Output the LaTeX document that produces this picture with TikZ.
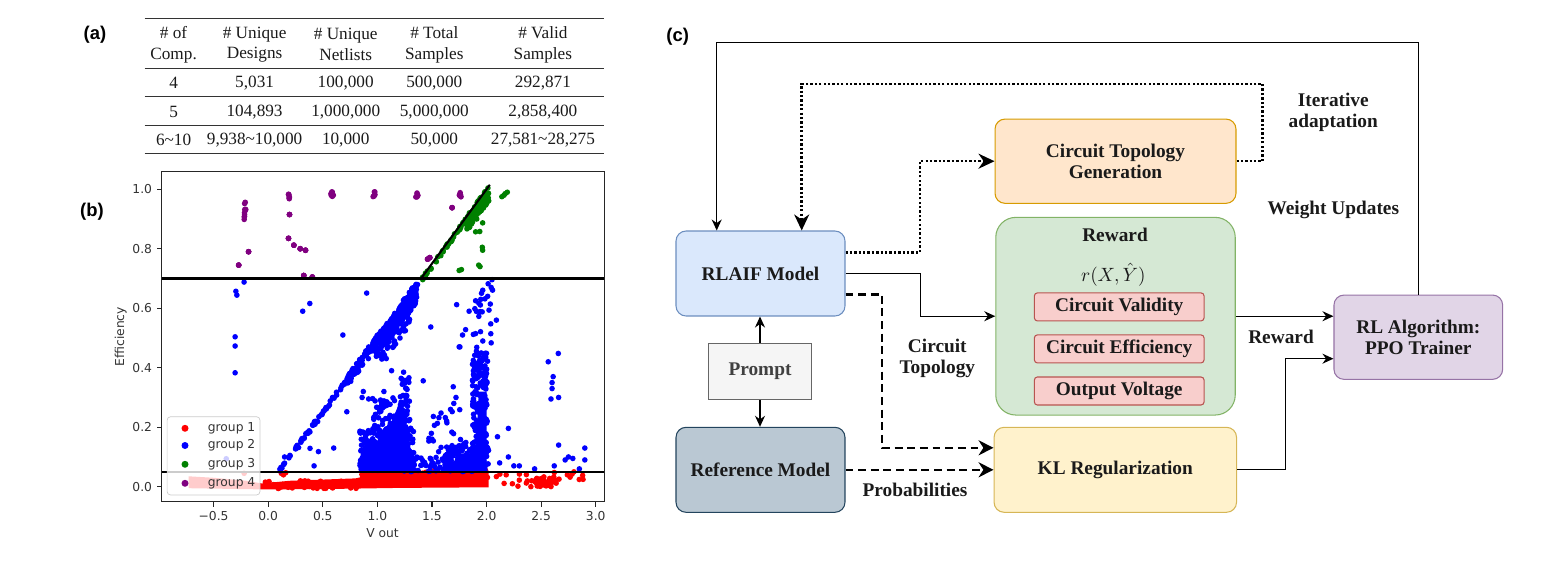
\documentclass[tikz,border=0pt]{standalone}
\usepackage{fontspec}
\setmainfont{Liberation Serif}
\newfontfamily\plotsans{DejaVu Sans}
\newfontfamily\labelsans{Liberation Sans}
\usetikzlibrary{arrows.meta}

\definecolor{blueF}{HTML}{DAE8FC}\definecolor{blueD}{HTML}{6C8EBF}
\definecolor{greyF}{HTML}{F5F5F5}\definecolor{greyD}{HTML}{666666}
\definecolor{slateF}{HTML}{BAC8D3}\definecolor{slateD}{HTML}{23445D}
\definecolor{orangeF}{HTML}{FFE6CC}\definecolor{orangeD}{HTML}{D79B00}
\definecolor{greenF}{HTML}{D5E8D4}\definecolor{greenD}{HTML}{82B366}
\definecolor{redF}{HTML}{F8CECC}\definecolor{redD}{HTML}{B85450}
\definecolor{yellowF}{HTML}{FFF2CC}\definecolor{yellowD}{HTML}{D6B656}
\definecolor{purpleF}{HTML}{E1D5E7}\definecolor{purpleD}{HTML}{9673A6}
\definecolor{ptred}{HTML}{FF0000}\definecolor{ptblue}{HTML}{0000FF}
\definecolor{ptgreen}{HTML}{008000}\definecolor{ptpurple}{HTML}{800080}
\definecolor{ink}{HTML}{1A1A1A}

\newcommand\boxfont{\fontsize{11}{12}\selectfont\bfseries}
\newcommand\tabfont{\fontsize{9.8}{11.8}\selectfont}
\newcommand\dotcloud[6]{%
  \foreach \i in {1,...,#2}{\fill[#1] ({#3+(#4)*rnd},{#5+(#6)*rnd}) circle[radius=0.056cm];}}
\newcommand\dotline[6]{%
  \foreach \i in {1,...,#2}{\pgfmathsetmacro\uu{#3+(#4)*rnd}%
    \fill[#1] (\uu,{\uu/2+(#5)+(#6)*rnd}) circle[radius=0.056cm];}}

\tikzset{
  tag/.style={font=\labelsans\bfseries\fontsize{10.5}{12}\selectfont, inner sep=0pt},
  cell/.style={font=\tabfont, align=center, inner sep=0pt, text=ink},
  rule/.style={line width=0.8pt, draw=black!80},
  tick/.style={font=\plotsans\fontsize{7}{8}\selectfont, text=black!80, inner sep=0pt},
  thr/.style={line width=1.2pt, black},
  box/.style={draw, line width=0.6pt, rounded corners=0.2cm, font=\boxfont, text=ink,
    align=center, inner sep=1pt},
  sub/.style={box, rounded corners=0.06cm, fill=redF, draw=redD,
    minimum width=3.394cm, minimum height=0.56cm},
  lbl/.style={font=\boxfont, text=ink, align=center, inner sep=0pt},
  link/.style={line width=0.75pt, -{Stealth[length=2.2mm,width=2mm]}},
  dotlink/.style={line width=1.4pt, dash pattern=on 1.3pt off 1.2pt,
    -{Stealth[length=3.2mm,width=3mm]}},
  dashlink/.style={line width=1.4pt, dash pattern=on 4.5pt off 2.7pt,
    -{Stealth[length=3mm,width=3mm]}},
}

\begin{document}
\begin{tikzpicture}[x=0.02cm, y=-0.02cm]
\useasboundingbox (0,0) rectangle (1551,575);
\pgfmathsetseed{11}

% (a) dataset table
\node[tag] (taga) at (95,35) {(a)};
\foreach \y in {18.3,68.3,96.7,125.7,153.3}
  \draw[rule] (144.6,\y) -- (603.6,\y);
\node[cell] (h1) at (173.6,44.7) {\# of\\Comp.};
\node[cell] (h2) at (254.6,44.7) {\# Unique\\Designs};
\node[cell] (h3) at (345.7,44.7) {\# Unique\\Netlists};
\node[cell] (h4) at (434.3,44.7) {\# Total\\Samples};
\node[cell] (h5) at (542.9,44.7) {\# Valid\\Samples};
\node[cell] (a1) at (173.6,83.3) {4};
\node[cell] (a2) at (254.6,83.3) {5,031};
\node[cell] (a3) at (345.7,83.3) {100,000};
\node[cell] (a4) at (434.3,83.3) {500,000};
\node[cell] (a5) at (542.9,83.3) {292,871};
\node[cell] (b1) at (173.6,111.7) {5};
\node[cell] (b2) at (254.6,111.7) {104,893};
\node[cell] (b3) at (345.7,111.7) {1,000,000};
\node[cell] (b4) at (434.3,111.7) {5,000,000};
\node[cell] (b5) at (542.9,111.7) {2,858,400};
\node[cell] (c1) at (173.6,140) {6\textasciitilde10};
\node[cell] (c2) at (254.6,140) {9,938\textasciitilde10,000};
\node[cell] (c3) at (345.7,140) {10,000};
\node[cell] (c4) at (434.3,140) {50,000};
\node[cell] (c5) at (542.9,140) {27,581\textasciitilde28,275};

% (b) scatter of efficiency against output voltage
\node[tag] (tagb) at (92,211.7) {(b)};
\begin{scope}[shift={(268.2,486.7)}, x=2.184cm, y=5.95cm]
  \begin{scope}
    \clip (-0.974,-0.0504) rectangle (3.08,1.0588);
    % group 1
    \fill[ptred] (-0.73,-0.005) -- (-0.73,0.035) -- (-0.5,0.03) -- (-0.2,0.02)
      -- (-0.06,0.011) -- (0.2,0.02) -- (0.5,0.024) -- (0.8,0.028) -- (0.95,0.04)
      -- (1.05,0.052) -- (2.02,0.054) -- (2.02,-0.002) -- (1.2,-0.004)
      -- (0.5,-0.008) -- (-0.06,-0.009) -- cycle;
    \dotcloud{ptred}{120}{0.85}{1.17}{0.03}{0.026}
    \dotcloud{ptred}{60}{-0.06}{0.95}{-0.006}{0.026}
    \dotcloud{ptred}{22}{2.05}{0.85}{0.0}{0.048}
    \dotcloud{ptred}{35}{2.44}{0.24}{0.0}{0.033}
    \foreach \p in {(0.12,0.045),(0.14,0.04),(0.16,0.047),(-0.22,0.045),(2.09,0.034),
        (2.18,0.04),(2.3,0.022),(2.74,0.04),(2.8,0.05),(2.88,0.038)}
      \fill[ptred] \p circle[radius=0.056cm];
    % group 2
    \dotline{ptblue}{130}{0.1}{1.27}{-0.008}{0.016}
    \dotline{ptblue}{60}{0.72}{0.36}{-0.03}{0.04}
    \dotline{ptblue}{200}{0.98}{0.38}{-0.06}{0.06}
    \dotline{ptblue}{30}{1.0}{0.3}{-0.11}{0.05}
    \fill[ptblue] (0.86,0.05) -- (1.3,0.05) -- (1.3,0.12) -- (1.26,0.22) -- (1.2,0.28)
      -- (1.13,0.22) -- (1.05,0.17) -- (0.95,0.14) -- (0.86,0.1) -- cycle;
    \dotcloud{ptblue}{240}{0.84}{0.5}{0.05}{0.15}
    \dotcloud{ptblue}{90}{0.95}{0.35}{0.12}{0.18}
    \dotcloud{ptblue}{50}{1.21}{0.08}{0.18}{0.2}
    \dotcloud{ptblue}{40}{1.3}{0.35}{0.05}{0.05}
    \fill[ptblue] (1.66,0.05) -- (2.0,0.05) -- (2.0,0.32) -- (1.93,0.32) -- (1.9,0.12)
      -- (1.78,0.1) -- (1.68,0.07) -- cycle;
    \dotcloud{ptblue}{160}{1.62}{0.4}{0.05}{0.09}
    \dotcloud{ptblue}{170}{1.87}{0.14}{0.1}{0.36}
    \dotcloud{ptblue}{25}{1.88}{0.18}{0.46}{0.24}
    \dotcloud{ptblue}{30}{1.45}{0.4}{0.06}{0.22}
    \foreach \p in {(-0.303,0.383),(-0.303,0.504),(-0.303,0.473),(-0.296,0.657),
        (-0.287,0.644),(-0.221,0.688),(-0.384,0.094),(0.316,0.59),(0.381,0.616),
        (0.684,0.51),(0.902,0.651),(1.489,0.537),(1.726,0.612),(1.749,0.47),
        (1.808,0.528),(1.879,0.512),(1.84,0.59),(2.09,0.56),(2.01,0.64),(2.05,0.696),
        (2.1,0.168),(2.2,0.196),(2.12,0.08),(2.2,0.1),(2.25,0.07),(2.3,0.07),
        (2.44,0.06),(2.62,0.07),(2.66,0.14),(2.72,0.09),(2.75,0.1),(2.79,0.095),
        (2.9,0.13),(2.9,0.09),(2.85,0.06),(2.565,0.42),(2.657,0.448),(2.6,0.33),
        (2.6,0.35),(2.61,0.37),(2.59,0.295),(2.66,0.3),(0.383,0.129),(0.46,0.118),
        (0.42,0.07),(0.627,0.308),(0.72,0.252),(0.871,0.32),(0.86,0.3),(0.92,0.295),
        (1.06,0.32),(1.13,0.39),(1.24,0.385),(1.42,0.356),(1.695,0.336),
        (1.67,0.26),(1.7,0.28),(1.72,0.3),(1.756,0.47),(1.78,0.51),(1.5,0.16),
        (1.207,0.5),(0.6,0.13),(0.15,0.1)}
      \fill[ptblue] \p circle[radius=0.056cm];
    % group 3
    \dotline{ptgreen}{50}{1.4}{0.45}{-0.014}{0.012}
    \dotline{ptgreen}{120}{1.82}{0.2}{-0.05}{0.05}
    \foreach \p in {(1.749,0.727),(1.77,0.73),(1.938,0.858),(1.964,0.887),(1.91,0.9),
        (1.9,0.857),(1.964,0.795),(1.961,0.805),(1.94,0.74),(1.928,0.745),
        (2.14,0.975),(2.16,0.98),(2.19,0.99),(2.17,0.985)}
      \fill[ptgreen] \p circle[radius=0.056cm];
    % group 4
    \dotcloud{ptpurple}{10}{-0.222}{0.02}{0.885}{0.075}
    \dotcloud{ptpurple}{6}{0.185}{0.02}{0.965}{0.025}
    \foreach \u in {0.583,0.97,1.36,1.756}
      \dotcloud{ptpurple}{7}{\u-0.01}{0.025}{0.974}{0.018}
    \foreach \p in {(-0.27,0.745),(-0.18,0.79),(0.195,0.915),(0.186,0.835),
        (0.235,0.812),(0.293,0.8),(0.342,0.795),(0.326,0.71),(0.404,0.705),
        (1.684,0.938),(1.48,0.77),(1.46,0.765)}
      \fill[ptpurple] \p circle[radius=0.056cm];
    % threshold lines
    \draw[thr] (-0.974,0.7) -- (3.08,0.7);
    \draw[thr] (-0.974,0.05) -- (3.08,0.05);
    \draw[thr] (1.4,0.7) -- (2.03,1.015);
  \end{scope}
  \draw[line width=0.6pt, black!85] (-0.974,-0.0504) rectangle (3.08,1.0588);
  \foreach \u/\t in {-0.5/−0.5,0/0.0,0.5/0.5,1/1.0,1.5/1.5,2/2.0,2.5/2.5,3/3.0}{
    \draw[line width=0.6pt, black!85] (\u,-0.0504) -- ++(0pt,-0.1cm);
    \node[tick] at (\u,-0.0504) [yshift=-0.29cm] {\t};
  }
  \foreach \v in {0.0,0.2,0.4,0.6,0.8,1.0}{
    \draw[line width=0.6pt, black!85] (-0.974,\v) -- ++(-0.1cm,0pt);
    \node[tick, anchor=east] at (-0.974,\v) [xshift=-0.19cm] {\v};
  }
\end{scope}
\node[tick, rotate=90] (ylab) at (120.7,336.7) {Efficiency};
\node[tick] (xlab) at (382.5,533) {V out};
% legend
\draw[rounded corners=2pt, draw=black!20, fill=white, fill opacity=0.8]
  (167.1,416.7) rectangle (260,495);
\foreach \c/\n/\y in {ptred/1/428.3,ptblue/2/445.5,ptgreen/3/464.3,ptpurple/4/483.3}{
  \fill[\c] (185,\y) circle[radius=0.07cm];
  \node[tick, anchor=west] (leg\n) at (207.5,\y) {group \n};
}

% (c) training pipeline
\node[tag] (tagc) at (677.7,36.7) {(c)};
\node[box, fill=blueF, draw=blueD, minimum width=3.38cm, minimum height=1.7cm]
  (rlaif) at (760.5,273.5) {RLAIF Model};
\node[box, rounded corners=0pt, fill=greyF, draw=greyD, text=black!75,
  minimum width=2.07cm, minimum height=1.12cm] (prompt) at (760,371.3) {Prompt};
\node[box, fill=slateF, draw=slateD, minimum width=3.38cm, minimum height=1.7cm]
  (ref) at (760.5,469.8) {Reference Model};
\node[box, fill=orangeF, draw=orangeD, minimum width=4.82cm, minimum height=1.686cm]
  (ctg) at (1115.5,161.2) {Circuit Topology\\Generation};
\node[box, rounded corners=0.4cm, fill=greenF, draw=greenD,
  minimum width=4.79cm, minimum height=3.954cm] (rw) at (1115.5,316.2) {};
\node[lbl] (rwt) at (1115,235) {Reward};
\node[lbl, font=\fontsize{11}{12}\selectfont] (rwf) at (1113.3,275) {$r(X,\hat{Y})$};
\node[sub] (val) at (1119.2,306.9) {Circuit Validity};
\node[sub] (eff) at (1119.2,348.9) {Circuit Efficiency};
\node[sub] (vol) at (1119.2,391) {Output Voltage};
\node[box, fill=yellowF, draw=yellowD, minimum width=4.85cm, minimum height=1.7cm]
  (kl) at (1115.3,469.8) {KL Regularization};
\node[box, fill=purpleF, draw=purpleD, minimum width=3.374cm, minimum height=1.686cm]
  (rl) at (1418.3,337.2) {RL Algorithm:\\PPO Trainer};

\node[lbl] (iter) at (1333.3,112) {Iterative\\adaptation};
\node[lbl] (wu) at (1333.3,210) {Weight Updates};
\node[lbl] (ctop) at (937.3,358.8) {Circuit\\Topology};
\node[lbl] (prob) at (915,490) {Probabilities};
\node[lbl] (rwl) at (1281,337.3) {Reward};

\coordinate (otop) at (716.7,42.7);
\draw[link] (rl.north) |- (otop) -- (otop |- rlaif.north);
\coordinate (itop) at (1262.7,84);
\coordinate (ileft) at (801.7,84);
\draw[dotlink] (ctg.east) -| (itop) -- (ileft) -- (ileft |- rlaif.north);
\draw[dotlink] ([yshift=0.42cm]rlaif.east) -- ++(74.3,0) |- (ctg.west);
\draw[link] (rlaif.east) -- ++(75,0) |- (rw.west);
\draw[dashlink] ([yshift=-0.42cm]rlaif.east) -- ++(36.7,0) |- ([yshift=0.44cm]kl.west);
\draw[dashlink] (ref.east) -- (kl.west);
\draw[link] (prompt.north) -- (prompt.north |- rlaif.south);
\draw[link] (prompt.south) -- (prompt.south |- ref.north);
\draw[link] (rw.east) -- (rw.east -| rl.west);
\draw[link] (kl.east) -- ++(48.3,0) |- ([yshift=-0.43cm]rl.west);
\end{tikzpicture}
\end{document}
